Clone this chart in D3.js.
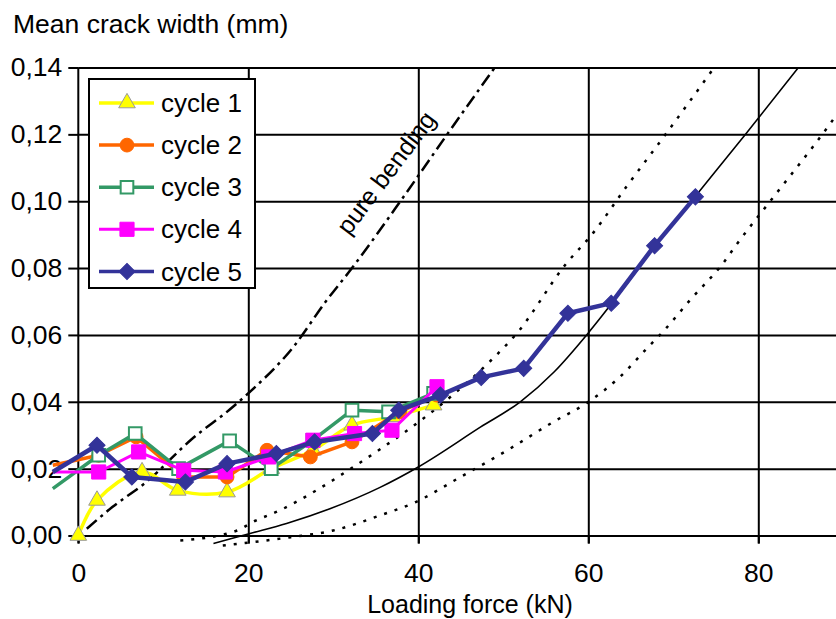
<!DOCTYPE html>
<html>
<head>
<meta charset="utf-8">
<script src="https://cdn.jsdelivr.net/npm/d3@7"></script>
<style>
  body { margin: 0; background: #fff; }
  svg { display: block; font-family: "Liberation Sans", Arial, sans-serif; }
  .tick text { font-size: 26.5px; fill: #000; }
</style>
</head>
<body>
<div id="chart"></div>
<script>
// Messwerte der 5 Zyklen (kN / mm)
const cycle1Force = [0, 2.2, 7.5, 11.7, 17.5, 22.7, 27.6, 32.2, 37, 41.8];
const cycle1Width = [0, 0.0105, 0.019, 0.0135, 0.013, 0.020, 0.0255, 0.033, 0.0355, 0.039];

const cycle2Force = [-3, 2.4, 6.8, 12.4, 17.5, 22.2, 27.3, 32.2, 37.8, 42.2];
const cycle2Width = [0.021, 0.024, 0.0295, 0.0175, 0.0175, 0.0255, 0.0235, 0.028, 0.037, 0.042];

const cycle3Force = [-3, 2.4, 6.7, 11.8, 17.8, 22.7, 27.6, 32.2, 36.5, 41.8];
const cycle3Width = [0.014, 0.024, 0.0305, 0.020, 0.0283, 0.020, 0.0285, 0.0375, 0.037, 0.0425];

const cycle4Force = [-3, 2.4, 7.1, 12.4, 17.3, 22.4, 27.6, 32.5, 36.9, 42.2];
const cycle4Width = [0.019, 0.019, 0.025, 0.0195, 0.019, 0.0235, 0.0285, 0.0305, 0.0315, 0.0445];

const cycle5Force = [-3, 2.2, 6.3, 12.6, 17.5, 23.3, 27.8, 34.6, 37.7, 42.6, 47.4, 52.4, 57.6, 62.7, 67.8, 72.6];
const cycle5Width = [0.019, 0.027, 0.0175, 0.016, 0.0215, 0.0245, 0.028, 0.0305, 0.0375, 0.042, 0.0473, 0.050, 0.0665, 0.0695, 0.0867, 0.1013];

// Rechenkurven
const pureBendingForce = [1, 4, 8, 13.2, 18.2, 20.2, 25.3, 29, 32.2, 37.9, 43.4, 49];
const pureBendingWidth = [0.002, 0.0085, 0.016, 0.0285, 0.0385, 0.043, 0.0564, 0.0696, 0.080, 0.100, 0.120, 0.140];

const upperDotForce = [12, 18.7, 20.5, 23.7, 28, 32.3, 35.5, 39, 44.5, 48.4, 51.6, 57.3, 60.6, 64.5, 68.8, 75.1];
const upperDotWidth = [-0.0015, 0.0015, 0.004, 0.0075, 0.0135, 0.0204, 0.0258, 0.032, 0.043, 0.052, 0.0605, 0.081, 0.0906, 0.1044, 0.119, 0.141];

const meanForce = [15.9, 20.2, 24.5, 29.6, 35.5, 40, 47.3, 52, 56, 60, 64, 68, 72.6, 78.5, 85.5];
const meanWidth = [-0.0024, 0.0006, 0.0036, 0.008, 0.0144, 0.0205, 0.0324, 0.040, 0.049, 0.0606, 0.0735, 0.087, 0.1015, 0.120, 0.1425];

const lowerDotForce = [17, 25, 30, 35.5, 39.6, 44.9, 50.8, 55.9, 59.8, 63.7, 66.9, 68.8, 72, 75.9, 77.6, 81.4, 88.4, 92];
const lowerDotWidth = [-0.003, -0.0005, 0.0015, 0.006, 0.0099, 0.0174, 0.026, 0.034, 0.0396, 0.0474, 0.056, 0.061, 0.0705, 0.0816, 0.0876, 0.100, 0.123, 0.136];

const xTicks = [0, 20, 40, 60, 80];
const yTicks = [0, 0.02, 0.04, 0.06, 0.08, 0.10, 0.12, 0.14];
const legendLabels = ["cycle 1", "cycle 2", "cycle 3", "cycle 4", "cycle 5"];

const W = 836, H = 619;
const x = d3.scaleLinear().domain([0, 80]).range([78.3, 758.3]);
const y = d3.scaleLinear().domain([0, 0.14]).range([535.5, 67.5]);

const locale = d3.formatLocale({ decimal: ",", thousands: ".", grouping: [3], currency: ["", ""] });
const fmt = locale.format(".2f");

const svg = d3.select("#chart").append("svg")
  .attr("width", W).attr("height", H);

svg.append("defs").append("clipPath").attr("id", "plotclip")
  .append("rect").attr("x", 0).attr("y", y(0.14)).attr("width", W).attr("height", 482);

// Gitter horizontal
svg.append("g")
  .attr("transform", "translate(" + x(0) + ",0)")
  .call(d3.axisLeft(y).tickValues(yTicks).tickSize(-(W - x(0))).tickFormat(""))
  .call(g => g.select(".domain").remove())
  .selectAll("line").attr("stroke", "#000").attr("stroke-width", 2);

// Gitter vertikal (mit Strichen unter der Achse)
svg.append("g")
  .attr("transform", "translate(0," + (y(0) + 8) + ")")
  .call(d3.axisBottom(x).tickValues(xTicks.slice(1)).tickSize(-(y(0) + 8 - y(0.14))).tickFormat(""))
  .call(g => g.select(".domain").remove())
  .selectAll("line").attr("stroke", "#000").attr("stroke-width", 2);

// y-Achse
const yAxis = svg.append("g")
  .attr("transform", "translate(" + x(0) + ",0)")
  .call(d3.axisLeft(y).tickValues(yTicks).tickSize(10).tickPadding(6).tickFormat(fmt));
yAxis.select(".domain").attr("stroke", "#000").attr("stroke-width", 2).attr("d", "M0," + y(0.14) + "V" + (y(0) + 8));
yAxis.selectAll("line").attr("stroke", "#000").attr("stroke-width", 2);

// x-Achse Beschriftung
const xAxis = svg.append("g")
  .attr("transform", "translate(0," + y(0) + ")")
  .call(d3.axisBottom(x).tickValues(xTicks).tickSize(8).tickPadding(20).tickFormat(d3.format("d")));
xAxis.select(".domain").remove();
xAxis.selectAll("line").attr("stroke", "#000").attr("stroke-width", 2);

svg.append("text").attr("x", 13).attr("y", 33)
  .style("font-size", "26.5px").text("Mean crack width (mm)");
svg.append("text").attr("x", 470).attr("y", 613)
  .attr("text-anchor", "middle").style("font-size", "25px").text("Loading force (kN)");

// Rechenkurven
const curveLine = d3.line().x(d => x(d[0])).y(d => y(d[1])).curve(d3.curveMonotoneX);
const plot = svg.append("g").attr("clip-path", "url(#plotclip)");

const refCurves = [
  { f: pureBendingForce, w: pureBendingWidth, dash: "13,5,3,5", width: 2.5 },
  { f: upperDotForce, w: upperDotWidth, dash: "3,8", width: 2.5 },
  { f: meanForce, w: meanWidth, dash: null, width: 1.6 },
  { f: lowerDotForce, w: lowerDotWidth, dash: "3,8", width: 2.5 }
];
refCurves.forEach(c => {
  plot.append("path")
    .datum(d3.zip(c.f, c.w))
    .attr("fill", "none")
    .attr("stroke", "#000")
    .attr("stroke-width", c.width)
    .attr("stroke-dasharray", c.dash)
    .attr("d", curveLine);
});

svg.append("text")
  .attr("transform", "translate(393,178) rotate(-53)")
  .attr("text-anchor", "middle")
  .style("font-size", "25px")
  .text("pure bending");

// Serien
const series = [
  { f: cycle1Force, w: cycle1Width, color: "#FFFF00", lw: 3.5, sym: d3.symbolTriangle, size: 120, fill: "#FFFF00", stroke: "#999999", sw: 1, rot: 0, curve: d3.curveCatmullRom },
  { f: cycle2Force, w: cycle2Width, color: "#FF6600", lw: 3.5, sym: d3.symbolCircle, size: 150, fill: "#FF6600", stroke: "#FF6600", sw: 1, rot: 0, curve: d3.curveLinear },
  { f: cycle3Force, w: cycle3Width, color: "#339966", lw: 3.5, sym: d3.symbolSquare, size: 160, fill: "#FFFFFF", stroke: "#339966", sw: 2, rot: 0, curve: d3.curveLinear },
  { f: cycle4Force, w: cycle4Width, color: "#FF00FF", lw: 3, sym: d3.symbolSquare, size: 200, fill: "#FF00FF", stroke: "#FF00FF", sw: 1, rot: 0, curve: d3.curveLinear },
  { f: cycle5Force, w: cycle5Width, color: "#333399", lw: 4.5, sym: d3.symbolSquare, size: 130, fill: "#333399", stroke: "#333399", sw: 1, rot: 45, curve: d3.curveLinear }
];

series.forEach(s => {
  const pts = d3.zip(s.f, s.w);
  const line = d3.line().x(d => x(d[0])).y(d => y(d[1])).curve(s.curve);
  svg.append("path")
    .datum(pts)
    .attr("fill", "none")
    .attr("stroke", s.color)
    .attr("stroke-width", s.lw)
    .attr("stroke-linejoin", "round")
    .attr("d", line);
  svg.append("g").selectAll("path")
    .data(pts.filter(d => d[0] >= 0))
    .enter()
    .append("path")
    .attr("transform", d => "translate(" + x(d[0]) + "," + y(d[1]) + ") rotate(" + s.rot + ")")
    .attr("d", d3.symbol().type(s.sym).size(s.size))
    .attr("fill", s.fill)
    .attr("stroke", s.stroke)
    .attr("stroke-width", s.sw);
});

// Legende
const legend = svg.append("g").attr("transform", "translate(89,79)");
legend.append("rect")
  .attr("width", 166).attr("height", 209)
  .attr("fill", "#fff").attr("stroke", "#000").attr("stroke-width", 2);

const item = legend.selectAll("g.item")
  .data(series)
  .enter()
  .append("g")
  .attr("class", "item")
  .attr("transform", (d, i) => "translate(0," + (24 + i * 42.1) + ")");
item.append("line")
  .attr("x1", 10).attr("x2", 65)
  .attr("stroke", d => d.color)
  .attr("stroke-width", d => Math.min(d.lw, 3.5));
item.append("path")
  .attr("transform", d => "translate(38,0) rotate(" + d.rot + ")")
  .attr("d", d => d3.symbol().type(d.sym).size(d.size)())
  .attr("fill", d => d.fill)
  .attr("stroke", d => d.stroke)
  .attr("stroke-width", d => d.sw);
item.append("text")
  .attr("x", 72)
  .attr("dy", "0.35em")
  .style("font-size", "26px")
  .text((d, i) => legendLabels[i]);
</script>
</body>
</html>
